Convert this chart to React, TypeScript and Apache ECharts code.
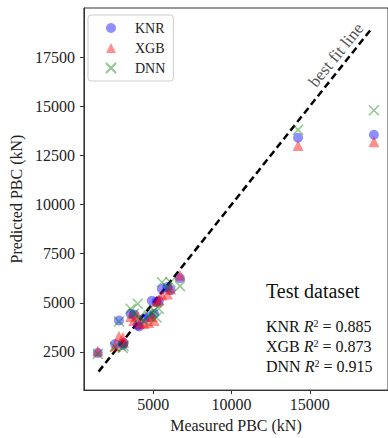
import React, { useEffect, useRef } from "react";
import * as echarts from "echarts";

const measured = [1450, 2550, 2800, 3050, 3100, 3550, 3750, 4000, 4100, 4400, 4700, 4900, 5050, 5200, 5350, 5550, 5900, 6100, 6700, 14250, 19100];
const knrPred = [2450, 2900, 4100, 2850, 2950, 4450, 4400, 3850, 3800, 4200, 4300, 5100, 4450, 5050, 5100, 5700, 5800, 5650, 6250, 13400, 13550];
const xgbPred = [2550, 2800, 3300, 3250, 3000, 4300, 4100, 4350, 3950, 3950, 4000, 4300, 4100, 5050, 5150, 5400, 5450, 5700, 6400, 13000, 13200];
const dnnPred = [2400, 2750, 4050, 2700, 2800, 4700, 4450, 4950, 4250, 4100, 4350, 4500, 4600, 4250, 4700, 6050, 5750, 6050, 5850, 13800, 14800];
const fitLine = [1500, 19000];
const xTicks = [5000, 10000, 15000];
const yTicks = [2500, 5000, 7500, 10000, 12500, 15000, 17500];
const seriesNames = ["KNR", "XGB", "DNN"];
const r2Values = ["0.885", "0.873", "0.915"];

const FONT = "'Liberation Serif', 'DejaVu Serif', 'Times New Roman', serif";
const X_PATH = "path://M0,0L10,10M10,0L0,10";

export default function App() {
  const ref = useRef<HTMLDivElement>(null);
  useEffect(() => {
    if (!ref.current) return;
    const chart = echarts.init(ref.current, undefined, { renderer: "svg" });
    const pairs = (ys: number[]) => measured.map((x, i) => [x, ys[i]]);
    const r2Lines = seriesNames.map((n, i) => ({
      type: "text",
      left: 266,
      top: 318 + i * 20,
      style: {
        text: `{n|${n} }{i|R}{s|2}{n| = ${r2Values[i]}}`,
        rich: {
          n: { fontFamily: FONT, fontSize: 16, fill: "#111" },
          i: { fontFamily: FONT, fontSize: 16, fontStyle: "italic", fill: "#111" },
          s: { fontFamily: FONT, fontSize: 10, fill: "#111", padding: [0, 0, 7, 0] },
        },
      },
    }));
    chart.setOption({
      animation: false,
      grid: { left: 82, right: -5, top: 8, bottom: 47, show: true, borderColor: "#333", borderWidth: 1 },
      xAxis: {
        type: "value",
        min: 560,
        max: 20000,
        name: "Measured PBC (kN)",
        nameLocation: "middle",
        nameGap: 26,
        nameTextStyle: { fontFamily: FONT, fontSize: 16, color: "#222" },
        splitLine: { show: false },
        axisLine: { show: true, onZero: false, lineStyle: { color: "#333" } },
        axisTick: { show: true, length: 4, customValues: xTicks, lineStyle: { color: "#333" } },
        axisLabel: { customValues: xTicks, formatter: (v: number) => String(v), fontFamily: FONT, fontSize: 16, color: "#222", margin: 6 },
      },
      yAxis: {
        type: "value",
        min: 560,
        max: 20000,
        name: "Predicted PBC (kN)",
        nameLocation: "middle",
        nameGap: 56,
        nameTextStyle: { fontFamily: FONT, fontSize: 16, color: "#222" },
        splitLine: { show: false },
        axisLine: { show: true, onZero: false, lineStyle: { color: "#333" } },
        axisTick: { show: true, length: 4, customValues: yTicks, lineStyle: { color: "#333" } },
        axisLabel: { customValues: yTicks, formatter: (v: number) => String(v), fontFamily: FONT, fontSize: 16, color: "#222", margin: 9 },
      },
      legend: {
        data: seriesNames,
        orient: "vertical",
        left: 88,
        top: 15,
        itemWidth: 10,
        itemHeight: 10,
        itemGap: 6,
        padding: [6, 8, 6, 17],
        borderColor: "#ccc",
        borderWidth: 1,
        borderRadius: 3,
        backgroundColor: "rgba(255,255,255,0.8)",
        textStyle: { fontFamily: FONT, fontSize: 14, color: "#222", padding: [0, 0, 0, 14] },
      },
      series: [
        {
          name: "best fit",
          type: "line",
          data: fitLine.map((v) => [v, v]),
          symbol: "none",
          lineStyle: { color: "#000", width: 2.5, type: [7, 4] },
          z: 1,
        },
        {
          name: "KNR",
          type: "scatter",
          data: pairs(knrPred),
          symbol: "circle",
          symbolSize: 10,
          itemStyle: { color: "rgba(0,0,255,0.55)" },
          z: 3,
        },
        {
          name: "XGB",
          type: "scatter",
          data: pairs(xgbPred),
          symbol: "triangle",
          symbolSize: 11,
          itemStyle: { color: "rgba(255,0,0,0.55)" },
          z: 4,
        },
        {
          name: "DNN",
          type: "scatter",
          data: pairs(dnnPred),
          symbol: X_PATH,
          symbolSize: 10,
          itemStyle: { color: "rgba(0,0,0,0)", borderColor: "rgba(0,128,0,0.55)", borderWidth: 1.5 },
          z: 5,
        },
      ],
      graphic: [
        {
          type: "text",
          x: 336,
          y: 55,
          rotation: (51 * Math.PI) / 180,
          style: {
            text: "best fit line",
            fontFamily: FONT,
            fontSize: 17,
            fill: "#555",
            align: "center",
            verticalAlign: "middle",
          },
        },
        {
          type: "text",
          left: 266,
          top: 281,
          style: { text: "Test dataset", fontFamily: FONT, fontSize: 20, fill: "#111" },
        },
        ...r2Lines,
      ],
    });
    return () => chart.dispose();
  }, []);
  return (
    <div style={{ position: "fixed", left: 0, top: 0, width: 388, height: 438, overflow: "hidden", background: "#fff" }}>
      <div ref={ref} style={{ width: 388, height: 438 }} />
    </div>
  );
}
